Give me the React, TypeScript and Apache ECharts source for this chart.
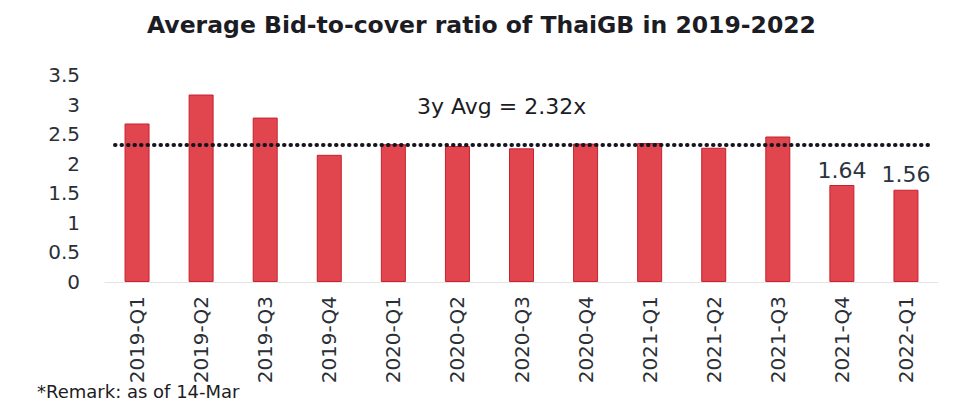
import React, { useEffect, useRef } from "react";
import * as echarts from "echarts";

const categories = [
  "2019-Q1", "2019-Q2", "2019-Q3", "2019-Q4",
  "2020-Q1", "2020-Q2", "2020-Q3", "2020-Q4",
  "2021-Q1", "2021-Q2", "2021-Q3", "2021-Q4", "2022-Q1",
];
const bidToCover = [2.68, 3.17, 2.78, 2.15, 2.33, 2.3, 2.26, 2.34, 2.35, 2.27, 2.46, 1.64, 1.56];
const labeledCategories = ["2021-Q4", "2022-Q1"];
const avgValue = 2.32;
const avgLabel = "3y Avg = 2.32x";
const yTicks = [0, 0.5, 1, 1.5, 2, 2.5, 3, 3.5];
const titleText = "Average Bid-to-cover ratio of ThaiGB in 2019-2022";
const remarkText = "*Remark: as of 14-Mar";

export default function App() {
  const ref = useRef<HTMLDivElement>(null);
  useEffect(() => {
    if (!ref.current) return;
    const chart = echarts.init(ref.current, undefined, { renderer: "svg" });
    chart.setOption({
      animation: false,
      backgroundColor: "#ffffff",
      title: {
        text: titleText,
        left: 142,
        top: 8,
        textStyle: {
          fontFamily: "DejaVu Sans",
          fontWeight: "bold",
          fontSize: 23.5,
          color: "#1c1c24",
        },
      },
      grid: { left: 105, right: 17, top: 75, bottom: 127 },
      xAxis: {
        type: "category",
        data: categories,
        axisLine: { lineStyle: { color: "#e4e4e4", width: 1 } },
        axisTick: { show: false },
        axisLabel: {
          rotate: 90,
          interval: 0,
          margin: 14,
          fontFamily: "DejaVu Sans",
          fontSize: 20,
          color: "#2a2f38",
        },
      },
      yAxis: {
        type: "value",
        min: yTicks[0],
        max: yTicks[yTicks.length - 1],
        interval: 0.5,
        splitLine: { show: false },
        axisLine: { show: false },
        axisTick: { show: false },
        axisLabel: {
          margin: 25,
          fontFamily: "DejaVu Sans",
          fontSize: 20,
          color: "#2a2f38",
        },
      },
      graphic: [
        {
          type: "text",
          left: 417,
          top: 95,
          style: {
            text: avgLabel,
            fontFamily: "DejaVu Sans",
            fontSize: 22,
            fill: "#1c1c24",
          },
        },
        {
          type: "text",
          left: 37,
          top: 382,
          style: {
            text: remarkText,
            fontFamily: "DejaVu Sans",
            fontSize: 18,
            fill: "#1c1c24",
          },
        },
      ],
      series: [
        {
          type: "bar",
          data: bidToCover.map((v, i) => ({
            value: v,
            label: {
              show: labeledCategories.includes(categories[i]),
            },
          })),
          barWidth: 25,
          itemStyle: {
            color: "#e1464e",
            borderColor: "#c8202e",
            borderWidth: 1,
          },
          label: {
            position: "top",
            distance: 4,
            fontFamily: "DejaVu Sans",
            fontSize: 22,
            color: "#2a3340",
            formatter: (p: any) => p.value.toFixed(2),
          },
          markLine: {
            symbol: "none",
            silent: true,
            label: { show: false },
            lineStyle: {
              color: "#15151f",
              width: 4,
              type: [0.5, 6],
              cap: "round",
            },
            data: [
              [
                { x: 115, yAxis: avgValue },
                { x: 933, yAxis: avgValue },
              ],
            ],
          },
        },
      ],
    });
    return () => chart.dispose();
  }, []);
  return (
    <div
      ref={ref}
      style={{ position: "fixed", left: 0, top: 0, width: 955, height: 409 }}
    />
  );
}
